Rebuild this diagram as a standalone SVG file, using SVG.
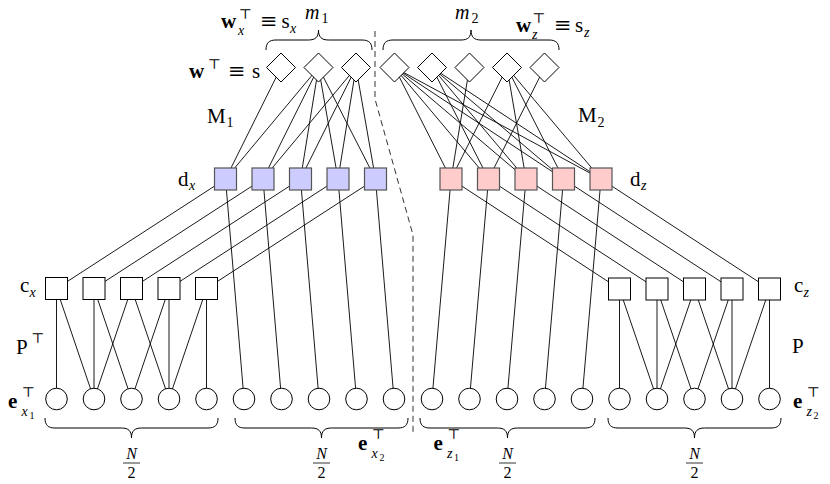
<svg xmlns="http://www.w3.org/2000/svg" width="830" height="484" viewBox="0 0 830 484">
<defs>
<style>
.e{stroke:#000;stroke-width:0.9;fill:none}
.dash{stroke:#333;stroke-width:1;fill:none;stroke-dasharray:6,4}
.br{stroke:#000;stroke-width:1;fill:none}
.dia{fill:#fff;stroke:#000;stroke-width:1}
.wsq{fill:#fff;stroke:#000;stroke-width:1}
.bsq{fill:#ccccff;stroke:#555;stroke-width:1.2}
.psq{fill:#ffcccc;stroke:#555;stroke-width:1.2}
.cir{fill:#fff;stroke:#000;stroke-width:1}
.s{font-size:14px}
.ss{font-size:10px}
.i{font-style:italic}
.b{font-weight:bold}
.fl{stroke:#000;stroke-width:0.8}
</style>
<path id="dm" d="M0,-14.5 L14.5,0 L0,14.5 L-14.5,0 Z"/>
<rect id="sq" x="-11" y="-11" width="22" height="22"/>
<circle id="ci" r="10.8"/>
</defs>
<rect width="830" height="484" fill="#fff"/>

<g id="connectors">
<path class="e" d="M281,67.5L225.5,179 M318.5,67.5L225.5,179 M318.5,67.5L263,179 M318.5,67.5L300.5,179 M318.5,67.5L338,179 M318.5,67.5L375.5,179 M356,67.5L263,179 M356,67.5L300.5,179 M356,67.5L338,179 M356,67.5L375.5,179"/>
<path class="e" d="M394.5,67.5L451,179 M394.5,67.5L488.5,179 M394.5,67.5L526,179 M394.5,67.5L563.5,179 M394.5,67.5L601,179 M432,67.5L488.5,179 M432,67.5L526,179 M432,67.5L563.5,179 M432,67.5L601,179 M469.5,67.5L451,179 M507,67.5L451,179 M507,67.5L526,179 M507,67.5L563.5,179 M507,67.5L601,179 M544.5,67.5L488.5,179"/>
<path class="e" d="M225.5,179L56.5,288.5 M263,179L94,288.5 M300.5,179L131.5,288.5 M338,179L169,288.5 M375.5,179L206.5,288.5 M225.5,179L244,399 M263,179L281.5,399 M300.5,179L319,399 M338,179L356.5,399 M375.5,179L394,399"/>
<path class="e" d="M451,179L619.5,289 M488.5,179L657,289 M526,179L694.5,289 M563.5,179L732,289 M601,179L769.5,289 M451,179L432,399 M488.5,179L469.5,399 M526,179L507,399 M563.5,179L544.5,399 M601,179L582,399"/>
<path class="e" d="M56.5,288.5L56.5,399 M56.5,288.5L94,399 M94,288.5L94,399 M94,288.5L131.5,399 M131.5,288.5L94,399 M131.5,288.5L169,399 M169,288.5L131.5,399 M169,288.5L169,399 M206.5,288.5L169,399 M206.5,288.5L206.5,399"/>
<path class="e" d="M619.5,289L619.5,399 M619.5,289L657,399 M657,289L657,399 M657,289L694.5,399 M694.5,289L657,399 M694.5,289L732,399 M732,289L694.5,399 M732,289L732,399 M769.5,289L732,399 M769.5,289L769.5,399"/>
</g>

<g id="separator">
<path class="dash" d="M375,31 L375,99 L413,235 L413,434"/>
</g>

<g id="braces">
<path class="br" d="M266,50 C266,43 269,40 276,40 L308.5,40 C315.5,40 318.5,37 318.5,30 C318.5,37 321.5,40 328.5,40 L362,40 C369,40 372,43 372,50"/>
<path class="br" d="M383,50 C383,43 386,40 393,40 L461,40 C468,40 471,37 471,30 C471,37 474,40 481,40 L549,40 C556,40 559,43 559,50"/>
<path class="br" d="M45,418 C45,425 48,428 55,428 L121.5,428 C128.5,428 131.5,431 131.5,438 C131.5,431 134.5,428 141.5,428 L208,428 C215,428 218,425 218,418"/>
<path class="br" d="M235,418 C235,425 238,428 245,428 L311.5,428 C318.5,428 321.5,431 321.5,438 C321.5,431 324.5,428 331.5,428 L398,428 C405,428 408,425 408,418"/>
<path class="br" d="M420,418 C420,425 423,428 430,428 L497.5,428 C504.5,428 507.5,431 507.5,438 C507.5,431 510.5,428 517.5,428 L585,428 C592,428 595,425 595,418"/>
<path class="br" d="M608,418 C608,425 611,428 618,428 L684.5,428 C691.5,428 694.5,431 694.5,438 C694.5,431 697.5,428 704.5,428 L771,428 C778,428 781,425 781,418"/>
</g>

<g id="s-nodes">
<use href="#dm" class="dia" x="281" y="67.5"/>
<use href="#dm" class="dia" x="318.5" y="67.5"/>
<use href="#dm" class="dia" x="356" y="67.5"/>
</g>
<g id="sz-nodes">
<use href="#dm" class="dia" x="394.5" y="67.5"/>
<use href="#dm" class="dia" x="432" y="67.5"/>
<use href="#dm" class="dia" x="469.5" y="67.5"/>
<use href="#dm" class="dia" x="507" y="67.5"/>
<use href="#dm" class="dia" x="544.5" y="67.5"/>
</g>
<g id="dx-nodes">
<use href="#sq" class="bsq" x="225.5" y="179"/>
<use href="#sq" class="bsq" x="263" y="179"/>
<use href="#sq" class="bsq" x="300.5" y="179"/>
<use href="#sq" class="bsq" x="338" y="179"/>
<use href="#sq" class="bsq" x="375.5" y="179"/>
</g>
<g id="dz-nodes">
<use href="#sq" class="psq" x="451" y="179"/>
<use href="#sq" class="psq" x="488.5" y="179"/>
<use href="#sq" class="psq" x="526" y="179"/>
<use href="#sq" class="psq" x="563.5" y="179"/>
<use href="#sq" class="psq" x="601" y="179"/>
</g>
<g id="cx-nodes">
<use href="#sq" class="wsq" x="56.5" y="288.5"/>
<use href="#sq" class="wsq" x="94" y="288.5"/>
<use href="#sq" class="wsq" x="131.5" y="288.5"/>
<use href="#sq" class="wsq" x="169" y="288.5"/>
<use href="#sq" class="wsq" x="206.5" y="288.5"/>
</g>
<g id="cz-nodes">
<use href="#sq" class="wsq" x="619.5" y="289"/>
<use href="#sq" class="wsq" x="657" y="289"/>
<use href="#sq" class="wsq" x="694.5" y="289"/>
<use href="#sq" class="wsq" x="732" y="289"/>
<use href="#sq" class="wsq" x="769.5" y="289"/>
</g>
<g id="ex-nodes">
<use href="#ci" class="cir" x="56.5" y="399"/>
<use href="#ci" class="cir" x="94" y="399"/>
<use href="#ci" class="cir" x="131.5" y="399"/>
<use href="#ci" class="cir" x="169" y="399"/>
<use href="#ci" class="cir" x="206.5" y="399"/>
<use href="#ci" class="cir" x="244" y="399"/>
<use href="#ci" class="cir" x="281.5" y="399"/>
<use href="#ci" class="cir" x="319" y="399"/>
<use href="#ci" class="cir" x="356.5" y="399"/>
<use href="#ci" class="cir" x="394" y="399"/>
</g>
<g id="ez-nodes">
<use href="#ci" class="cir" x="432" y="399"/>
<use href="#ci" class="cir" x="469.5" y="399"/>
<use href="#ci" class="cir" x="507" y="399"/>
<use href="#ci" class="cir" x="544.5" y="399"/>
<use href="#ci" class="cir" x="582" y="399"/>
<use href="#ci" class="cir" x="619.5" y="399"/>
<use href="#ci" class="cir" x="657" y="399"/>
<use href="#ci" class="cir" x="694.5" y="399"/>
<use href="#ci" class="cir" x="732" y="399"/>
<use href="#ci" class="cir" x="769.5" y="399"/>
</g>

<g id="labels" font-family="Liberation Serif, DejaVu Serif, serif" font-size="21" fill="#000">
<text x="189" y="78" class="b">w</text>
<text x="207.5" y="69" class="s" font-family="DejaVu Serif, serif">⊤</text>
<text x="228" y="78" font-family="DejaVu Serif, serif">≡</text>
<text x="252" y="78">s</text>
<text x="221" y="28" class="b">w</text>
<text x="238.5" y="19" class="s" font-family="DejaVu Serif, serif">⊤</text>
<text x="238" y="35" class="s i">x</text>
<text x="260" y="28" font-family="DejaVu Serif, serif">≡</text>
<text x="281.5" y="28">s</text>
<text x="290" y="33" class="s i">x</text>
<text x="305" y="19" class="i" font-size="20">m</text>
<text x="321.5" y="23" class="s">1</text>
<text x="455" y="19" class="i" font-size="20">m</text>
<text x="471.5" y="23" class="s">2</text>
<text x="516" y="31.5" class="b">w</text>
<text x="532" y="22.5" class="s" font-family="DejaVu Serif, serif">⊤</text>
<text x="532" y="38.5" class="s i">z</text>
<text x="554" y="31.5" font-family="DejaVu Serif, serif">≡</text>
<text x="575" y="31.5">s</text>
<text x="584" y="36.5" class="s i">z</text>
<text x="207" y="122.5">M</text>
<text x="226.5" y="127" class="s">1</text>
<text x="578" y="122">M</text>
<text x="597.5" y="126.5" class="s">2</text>
<text x="178" y="185.5">d</text>
<text x="189" y="190" class="s i">x</text>
<text x="630" y="185.5">d</text>
<text x="641" y="190" class="s i">z</text>
<text x="20" y="292">c</text>
<text x="29.5" y="297" class="s i">x</text>
<text x="794" y="292">c</text>
<text x="803.5" y="297" class="s i">z</text>
<text x="16" y="354">P</text>
<text x="31" y="343" class="s" font-family="DejaVu Serif, serif">⊤</text>
<text x="792" y="352.5">P</text>
<text x="8" y="408" class="b">e</text>
<text x="21.5" y="397" class="s" font-family="DejaVu Serif, serif">⊤</text>
<text x="21.5" y="416" class="s i">x</text>
<text x="29.5" y="419" class="ss">1</text>
<text x="793" y="408" class="b">e</text>
<text x="806.5" y="397" class="s" font-family="DejaVu Serif, serif">⊤</text>
<text x="806.5" y="416" class="s i">z</text>
<text x="813.5" y="419" class="ss">2</text>
<text x="358" y="450" class="b">e</text>
<text x="371.5" y="439" class="s" font-family="DejaVu Serif, serif">⊤</text>
<text x="371.5" y="458" class="s i">x</text>
<text x="379.5" y="461" class="ss">2</text>
<text x="433.5" y="450" class="b">e</text>
<text x="447" y="439" class="s" font-family="DejaVu Serif, serif">⊤</text>
<text x="447" y="458" class="s i">z</text>
<text x="454" y="461" class="ss">1</text>
<g text-anchor="middle" font-size="16">
<text x="131.5" y="459" class="i">N</text>
<text x="131.5" y="478">2</text>
<text x="321.5" y="459" class="i">N</text>
<text x="321.5" y="478">2</text>
<text x="507.5" y="459" class="i">N</text>
<text x="507.5" y="478">2</text>
<text x="694.5" y="459" class="i">N</text>
<text x="694.5" y="478">2</text>
</g>
<path class="fl" d="M123,463H140 M313,463H330 M499,463H516 M686,463H703"/>
</g>
</svg>
